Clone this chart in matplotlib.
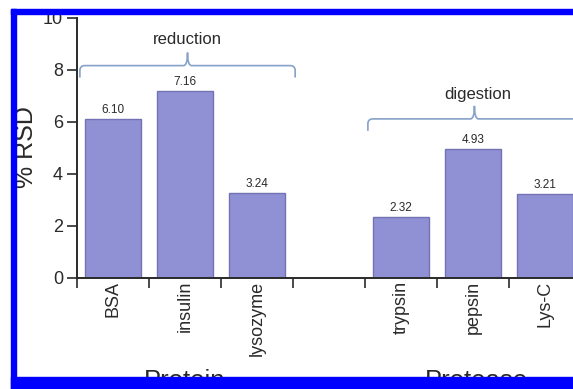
import matplotlib
matplotlib.use("Agg")
import matplotlib.pyplot as plt
from matplotlib.path import Path
from matplotlib.patches import PathPatch, Rectangle
import matplotlib.transforms as mtransforms

plt.rcParams['font.family'] = ['Liberation Sans', 'DejaVu Sans']

# ---- data ----
protein_names = ['BSA', 'insulin', 'lysozyme']
protein_rsd = [6.10, 7.16, 3.24]
protease_names = ['trypsin', 'pepsin', 'Lys-C']
protease_rsd = [2.32, 4.93, 3.21]
group_titles = ['Protein', 'Protease']
bracket_labels = ['reduction', 'digestion']
y_ticks = [0, 2, 4, 6, 8, 10]

W, H = 573, 389
fig = plt.figure(figsize=(W / 100, H / 100), dpi=100)
ax = fig.add_axes([77 / W, (H - 277.5) / H, 504 / W, 260 / H])

txt = '#2a2a2a'
bar_face = '#9090d4'
bar_edge = '#7272b4'

protein_x = list(range(len(protein_names)))
protease_x = [len(protein_names) + 1 + i for i in range(len(protease_names))]
all_x = protein_x + protease_x
all_names = protein_names + protease_names
all_vals = protein_rsd + protease_rsd

bars = ax.bar(all_x, all_vals, width=0.78, color=bar_face, edgecolor=bar_edge,
              linewidth=1.0, zorder=2)
for x, v in zip(all_x, all_vals):
    ax.text(x, v + 0.12, f'{v:.2f}', ha='center', va='bottom', fontsize=8.5,
            color=txt)

ax.set_xlim(-0.5, 6.5)
ax.set_ylim(0, 10)
ax.set_yticks(y_ticks)
ax.tick_params(axis='y', direction='out', length=7, width=1.2, labelsize=13,
               colors=txt, pad=3)

# boundary ticks (major), labels at centres (minor)
ax.set_xticks([i - 0.5 for i in range(8)])
ax.set_xticklabels([])
ax.set_xticks(all_x, minor=True)
ax.set_xticklabels(all_names, minor=True, rotation=90, va='top', ha='center')
ax.tick_params(axis='x', which='major', direction='out', length=7, width=1.2,
               colors=txt)
ax.tick_params(axis='x', which='minor', length=0, labelsize=13, colors=txt,
               pad=2.5)

for s in ['top', 'right']:
    ax.spines[s].set_visible(False)
for s in ['left', 'bottom']:
    ax.spines[s].set_color(txt)
    ax.spines[s].set_linewidth(1.4)

ax.set_ylabel('% RSD', fontsize=18, color=txt)
ax.yaxis.set_label_coords((38 - 77) / 504, 0.5)

# brackets
bcol = '#86a2c8'


def bracket(x0, x1, y, drop=0.46, rise=0.5, rx=0.07, ry=0.19, cx=0.055):
    xc = (x0 + x1) / 2
    verts = [(x0, y - drop), (x0, y - ry), (x0, y), (x0 + rx, y),
             (xc - cx, y), (xc, y), (xc, y + rise),
             (xc, y), (xc + cx, y),
             (x1 - rx, y), (x1, y), (x1, y - ry), (x1, y - drop)]
    codes = [Path.MOVETO, Path.LINETO, Path.CURVE3, Path.CURVE3,
             Path.LINETO, Path.CURVE3, Path.CURVE3,
             Path.CURVE3, Path.CURVE3,
             Path.LINETO, Path.CURVE3, Path.CURVE3, Path.LINETO]
    p = PathPatch(Path(verts, codes), fill=False, edgecolor=bcol, lw=1.2,
                  clip_on=False, zorder=3)
    ax.add_patch(p)
    return xc


xc1 = bracket(-0.46, 2.53, 8.15)
ax.text(xc1, 9.15, bracket_labels[0], ha='center', va='center', fontsize=12,
        color=txt)
xc2 = bracket(3.54, 6.5, 6.1)
ax.text(xc2 + 0.04, 7.05, bracket_labels[1], ha='center', va='center',
        fontsize=12, color=txt)

# group titles
trans = mtransforms.blended_transform_factory(ax.transData, fig.transFigure)
ax.text(1, (H - 388) / H, group_titles[0], transform=trans, ha='center',
        va='baseline', fontsize=18.5, color=txt, clip_on=False)
ax.text(5.05, (H - 388) / H, group_titles[1], transform=trans, ha='center',
        va='baseline', fontsize=18.5, color=txt, clip_on=False)

# blue frame
blue = '#0000ff'
fig.patches.append(Rectangle((11 / W, (H - 14) / H), 1 - 11 / W, 5 / H,
                             transform=fig.transFigure, color=blue, zorder=10))
fig.patches.append(Rectangle((11 / W, (H - 389) / H), 5 / W, 380 / H,
                             transform=fig.transFigure, color=blue, zorder=10))
fig.patches.append(Rectangle((11 / W, 0), 1 - 11 / W, 12 / H,
                             transform=fig.transFigure, color=blue, zorder=10))

fig.savefig('out.png', dpi=100)
